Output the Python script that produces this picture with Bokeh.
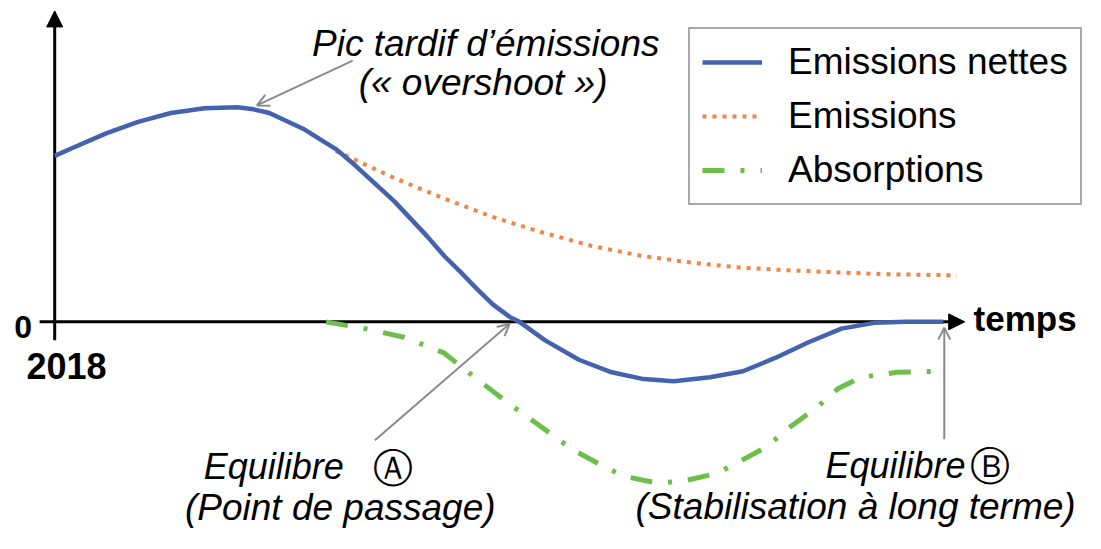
from bokeh.plotting import figure
from bokeh.models import Range1d, Arrow, NormalHead, OpenHead, Label, Legend, LegendItem
from bokeh.embed import file_html
from bokeh.resources import INLINE

# ---- data (arbitrary units: time 0..100, emissions) ----
net_x = [0, 2, 5.8, 9.4, 13.1, 16.9, 20.6, 22.4, 24.2, 28, 31.7, 33.9, 38.3, 42, 43.9, 45.8,
         47.6, 49.4, 51.3, 52.4, 55.3, 59.1, 62.8, 66.4, 69.8, 73.9, 77.6, 81.3, 85, 88.7,
         92.4, 96.1, 100.2]
net_y = [97.7, 102.3, 110.9, 117.7, 122.9, 125.7, 126.3, 125.1, 122.9, 113.7, 101.7, 92, 70.9,
         50.3, 38.9, 29.1, 19.4, 10.3, 2.9, 0, -10.9, -22.3, -29.7, -33.7, -34.9, -32.6, -29.1,
         -21.1, -12, -4, -0.6, 0, 0]

em_x = [31.7, 38.3, 43.9, 49.4, 55, 60.6, 66.1, 71.7, 77.2, 82.8, 88.3, 93.9, 101.7]
em_y = [100.6, 84.6, 72.6, 61.7, 52.6, 44.6, 38.9, 34.9, 32, 30.3, 29.1, 28, 27.4]

ab_x = [30.6, 35, 39.4, 43.9, 47.2, 50.9, 55, 58.3, 61.3, 64.2, 68, 70.9, 74.7, 77.6,
        80.2, 83.1, 85.8, 88.3, 90.9, 95, 99.4]
ab_y = [0, -4, -9.1, -18.3, -32, -46.9, -62.3, -74.9, -83.4, -90.9, -94.9, -93.7, -89.1, -81.1,
        -73.7, -61.1, -50.9, -39.4, -32.6, -29.7, -29.1]

labels = ["Emissions nettes", "Emissions", "Absorptions"]
colors = ["#4563ad", "#ef8548", "#6cbf4a"]

FONT = "Liberation Sans"

p = figure(width=1085, height=533, output_backend="svg", toolbar_location=None,
           x_range=Range1d(-6.111, 116.222), y_range=Range1d(-124.57, 189.14),
           min_border=0, outline_line_color=None)
p.axis.visible = False
p.grid.visible = False

# axes with arrowheads
p.add_layout(Arrow(end=NormalHead(size=16, fill_color="black", line_color="black"),
                   x_start=0, y_start=-10.9, x_end=0, y_end=183,
                   line_width=3, line_color="black", level="underlay"))
p.add_layout(Arrow(end=NormalHead(size=16, fill_color="black", line_color="black"),
                   x_start=-1.7, y_start=0, x_end=102.6, y_end=0,
                   line_width=3, line_color="black", level="underlay"))

r_em = p.line(em_x, em_y, line_color=colors[1], line_width=4, line_dash="4 6")
r_ab = p.line(ab_x, ab_y, line_color=colors[2], line_width=5, line_dash="22 16 4 16")
r_net = p.line(net_x, net_y, line_color=colors[0], line_width=4.5, line_join="round")

legend = Legend(items=[LegendItem(label=labels[0], renderers=[r_net]),
                       LegendItem(label=labels[1], renderers=[r_em]),
                       LegendItem(label=labels[2], renderers=[r_ab])],
                location=(688, 328), padding=12, spacing=12,
                glyph_width=60, glyph_height=38, label_height=38, label_standoff=26,
                label_text_font=FONT, label_text_font_size="37px", label_text_color="black",
                border_line_color="#555555", border_line_width=2, background_fill_alpha=1)
p.add_layout(legend, "center")

# annotation arrows
gray = "#8a8a8a"
for xs, ys, xe, ye in [(33.6, 153.7, 22.8, 127.4), (36.1, -69.7, 51.3, -1.1), (100.3, -69.1, 100.3, -3.4)]:
    p.add_layout(Arrow(end=OpenHead(size=12, line_color=gray, line_width=2),
                       x_start=xs, y_start=ys, x_end=xe, y_end=ye,
                       line_color=gray, line_width=2))

def lab(x, y, t, size="37px", style="italic", align="center", baseline="middle", font=FONT):
    p.add_layout(Label(x=x, y=y, text=t, text_font=font, text_font_size=size,
                       text_font_style=style, text_align=align, text_baseline=baseline,
                       text_color="black"))

lab(48.6, 163.7, "Pic tardif d\u2019émissions")
lab(48.3, 140.6, "(« overshoot »)")
lab(24.7, -85.1, "Equilibre", size="36px")
lab(38.1, -86.3, "\u24b6", size="40px", style="normal", font="DejaVu Sans")
lab(32.2, -109.4, "(Point de passage)")
lab(94.8, -84.6, "Equilibre", size="36px")
lab(105.4, -85.1, "\u24b7", size="40px", style="normal", font="DejaVu Sans")
lab(90.3, -108.4, "(Stabilisation à long terme)")
lab(-3.56, -3.1, "0", size="32px", style="bold")
lab(1.33, -26, "2018", size="36px", style="bold")
lab(103.6, 2, "temps", size="35px", style="bold", align="left")

open("out.html", "w").write(file_html(p, INLINE))
